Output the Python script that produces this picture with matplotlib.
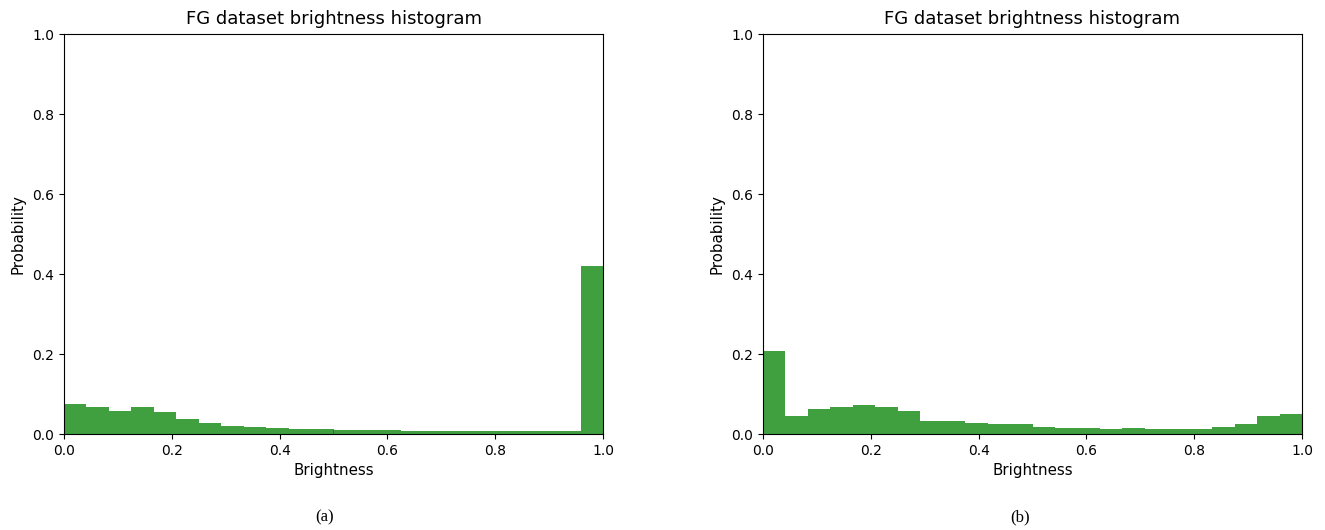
import numpy as np
import matplotlib
matplotlib.use('Agg')
import matplotlib.pyplot as plt

# 24 bins over [0, 1]
n_bins = 24
bin_edges = np.linspace(0, 1, n_bins + 1)

# probability per bin
prob_a = [0.075, 0.067, 0.057, 0.067, 0.054, 0.037, 0.028, 0.021,
          0.018, 0.015, 0.0125, 0.0125, 0.010, 0.010, 0.010, 0.0075,
          0.0075, 0.0075, 0.0075, 0.0075, 0.0075, 0.0075, 0.0075, 0.42]
prob_b = [0.208, 0.045, 0.062, 0.067, 0.0725, 0.067, 0.057, 0.032,
          0.032, 0.027, 0.024, 0.024, 0.018, 0.015, 0.015, 0.012,
          0.015, 0.012, 0.012, 0.012, 0.0175, 0.024, 0.045, 0.051]
captions = ['(a)', '(b)']
caption_x = [325, 1020]

fig = plt.figure(figsize=(13.25, 5.3), dpi=100)
ax1 = fig.add_axes([64 / 1325, 96 / 530, 539 / 1325, 400 / 530])
ax2 = fig.add_axes([763 / 1325, 96 / 530, 539 / 1325, 400 / 530])

centers = (bin_edges[:-1] + bin_edges[1:]) / 2
for ax, probs, cap, cx in zip([ax1, ax2], [prob_a, prob_b], captions, caption_x):
    ax.hist(centers, bins=bin_edges, weights=probs, color='g', alpha=0.75)
    ax.set_xlim(0, 1)
    ax.set_ylim(0, 1)
    ax.set_title('FG dataset brightness histogram', fontsize=13, pad=7)
    ax.set_xlabel('Brightness', fontsize=10.8)
    ax.set_ylabel('Probability', fontsize=10.8, labelpad=5)
    ax.tick_params(labelsize=10)
    fig.text(cx / 1325, 13 / 530, cap, ha='center', va='center',
             fontsize=12, family='Liberation Serif')

fig.savefig('out.png', dpi=100)
